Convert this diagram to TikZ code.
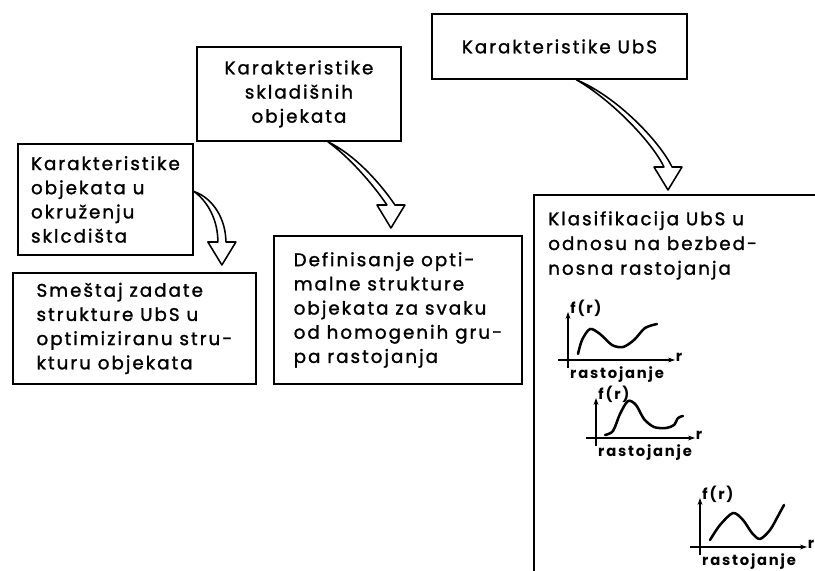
\documentclass[tikz,border=0pt]{standalone}
\usepackage{fontspec}
\setmainfont{Poppins}[LetterSpace=12]
\newfontfamily\boxfont{Poppins}[LetterSpace=11,FakeBold=1.4]
\usetikzlibrary{calc,positioning,arrows.meta}

% hollow bent arrow: start, tip, first control offset, last control offset
\newcommand{\fatarrow}[4]{%
\filldraw[fill=white,line width=1.1pt,line join=round]
  (#1) .. controls ($(#1)+#3$) and ($(#2)+(-4,-23)+#4$) .. ($(#2)+(-4,-23)$)
  -- ($(#2)+(-14,-23)$) -- (#2) -- ($(#2)+(14,-23)$) -- ($(#2)+(4,-23)$)
  .. controls ($(#2)+(4,-23)+#4$) and ($(#1)+#3+(6,-3)$) .. (#1) -- cycle;
}

\begin{document}
\begin{tikzpicture}[x=0.025cm,y=-0.025cm,
  box/.style={draw,line width=1.3pt,inner sep=0pt,font=\boxfont\fontsize{13}{17.2}\selectfont},
  axis/.style={line width=0.9pt,-{Stealth[length=5pt,width=3.5pt]}},
  curve/.style={line width=1.8pt,line cap=round,line join=round},
  lbl/.style={font=\fontsize{10.5}{11}\selectfont\bfseries,inner sep=1pt}]
\useasboundingbox (0,0) rectangle (815,571);

\node (A) at (17,143) [box,anchor=north west,align=left,minimum width=4.375cm,minimum height=2.775cm]
  {Karakteristike\\objekata u\\okruženju\\sklcdišta};
\node (B) at (12,272) [box,anchor=north west,align=left,minimum width=6.075cm,minimum height=2.775cm]
  {Smeštaj zadate\\strukture UbS u\\optimiziranu stru-\\kturu objekata};
\node (C) at (196,46) [box,anchor=north west,align=center,minimum width=5.1cm,minimum height=2.35cm]
  {Karakteristike\\skladišnih\\objekata};
\node (D) at (273,235) [box,anchor=north west,align=left,minimum width=6.2cm,minimum height=3.7cm]
  {Definisanje opti-\\malne strukture\\objekata za svaku\\od homogenih gru-\\pa rastojanja};
\node (E) at (431,13) [box,anchor=north west,minimum width=6.375cm,minimum height=1.625cm]
  {Karakteristike UbS};

% open box on the right
\coordinate (F) at (534,195);
\draw[line width=1.3pt] (815,195) -- (F) -- (534,571);
\node (Ft) at (548,211) [anchor=north west,align=left,inner sep=0pt,font=\boxfont\fontsize{13}{17.6}\selectfont]
  {Klasifikacija UbS u\\odnosu na bezbed-\\nosna rastojanja};

\coordinate (a1) at ($(A.east)+(0,-8)$);
\coordinate (a2) at ($(B.north east)+(-35,-7)$);
\coordinate (c1) at ($(C.south)+(29,0)$);
\coordinate (c2) at ($(D.north)+(-7,-7)$);
\coordinate (e1) at ($(E.south)+(17,0)$);
\coordinate (e2) at ($(F)+(134,-5)$);
\fatarrow{a1}{a2}{(14,10)}{(0,-22)}
\fatarrow{c1}{c2}{(25,18)}{(-10,-15)}
\fatarrow{e1}{e2}{(35,20)}{(-12,-25)}

% small graphs f(r)
\foreach \gx/\gy/\gt/\gl [count=\i] in {568/360/48/107,596/438/40/99,700/547/49/107}{
  \coordinate (o\i) at (\gx,\gy);
  \draw[axis] ($(o\i)+(0,8)$) -- ($(o\i)+(0,-\gt)$);
  \draw[axis] ($(o\i)+(-10,0)$) -- ($(o\i)+(\gl,0)$);
  \node (f\i) at ($(o\i)+(18,-\gt-4)$) [lbl] {f(r)};
  \node (r\i) at ($(o\i)+(\gl+4,-3)$) [lbl] {r};
  \node (d\i) at ($(o\i)+(49,5)$) [lbl,anchor=north] {rastojanje};
}
\draw[curve,shift={(o1)}] plot[smooth] coordinates
  {(10,-6) (14,-20) (22,-31) (32,-26) (44,-15) (55,-13) (66,-20) (77,-32) (89,-36)};
\draw[curve,shift={(o2)}] plot[smooth] coordinates
  {(9,-3) (17,-7) (24,-24) (32,-37) (40,-33) (48,-19) (58,-11) (70,-10) (78,-13) (82,-20) (87,-22)};
\draw[curve,shift={(o3)}] plot[smooth] coordinates
  {(10,-7) (20,-22) (33,-34) (43,-27) (52,-14) (60,-8) (70,-17) (78,-31) (84,-42)};
\end{tikzpicture}
\end{document}
